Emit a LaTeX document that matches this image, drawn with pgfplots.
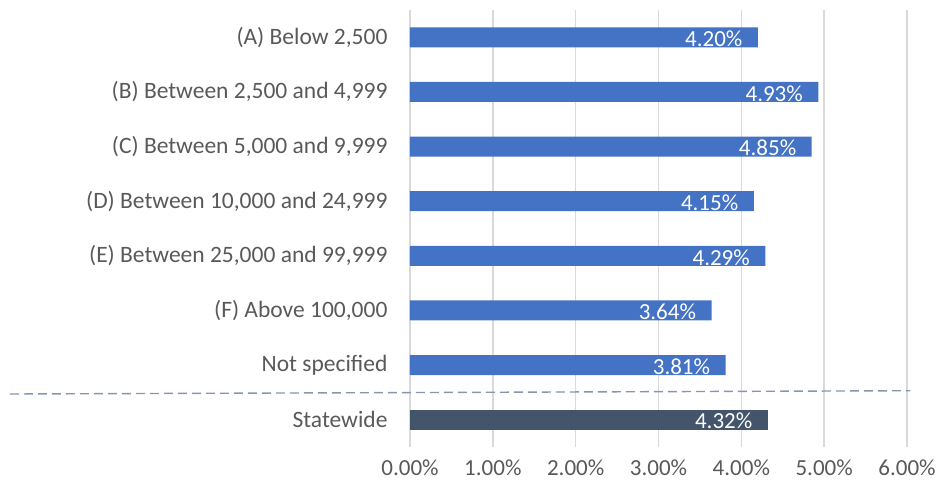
\documentclass[border=0pt]{standalone}
\usepackage{pgfplots}
\pgfplotsset{compat=1.18}
\usepackage{fontspec}
\setmainfont{Carlito}
\definecolor{barblue}{HTML}{4472C4}
\definecolor{bardark}{HTML}{44546A}
\definecolor{gridgray}{HTML}{D9D9D9}
\definecolor{txtgray}{HTML}{595959}
\definecolor{dashgray}{HTML}{8497B0}
\begin{document}
\begin{tikzpicture}[x=1pt,y=1pt]
\path[use as bounding box] (0,0) rectangle (940,489);
\begin{axis}[
  at={(410pt,42pt)}, anchor=south west,
  scale only axis, width=497pt, height=437pt,
  xmin=0, xmax=6, ymin=-0.5, ymax=7.5,
  xbar, bar width=20pt, bar shift=0pt,
  axis line style={draw=none},
  major tick length=0pt,
  xmajorgrids, major grid style={gridgray, line width=1.5pt},
  xtick={0,1,2,3,4,5,6},
  xticklabel={\pgfmathprintnumber[fixed,fixed zerofill,precision=2]{\tick}\%},
  /pgf/number format/assume math mode=true,
  xticklabel style={font=\fontsize{23}{26}\selectfont, text=txtgray, yshift=-9pt},
  ytick={0,1,2,3,4,5,6,7},
  yticklabels={Statewide,Not specified,(F) Above 100{,}000,(E) Between 25{,}000 and 99{,}999,(D) Between 10{,}000 and 24{,}999,(C) Between 5{,}000 and 9{,}999,(B) Between 2{,}500 and 4{,}999,(A) Below 2{,}500},
  yticklabel style={font=\fontsize{23.5}{26}\selectfont, text=txtgray, xshift=-19pt},
  nodes near coords={\pgfmathprintnumber[fixed,fixed zerofill,precision=2]{\pgfplotspointmeta}\%},
  nodes near coords style={font=\fontsize{23}{26}\selectfont, text=white, anchor=east, xshift=-12pt, yshift=-1.5pt, /pgf/number format/assume math mode=true},
  point meta=x,
  clip=false,
]
\addplot[fill=barblue, draw=none] coordinates {
  (4.20,7) (4.93,6) (4.85,5) (4.15,4) (4.29,3) (3.64,2) (3.81,1)
};
\addplot[fill=bardark, draw=none] coordinates {(4.32,0)};
\draw[dashgray, line width=1.4pt, dash pattern=on 9pt off 5pt] (axis cs:-4.83,0.47) -- (axis cs:6.04,0.53);
\end{axis}
\end{tikzpicture}
\end{document}
